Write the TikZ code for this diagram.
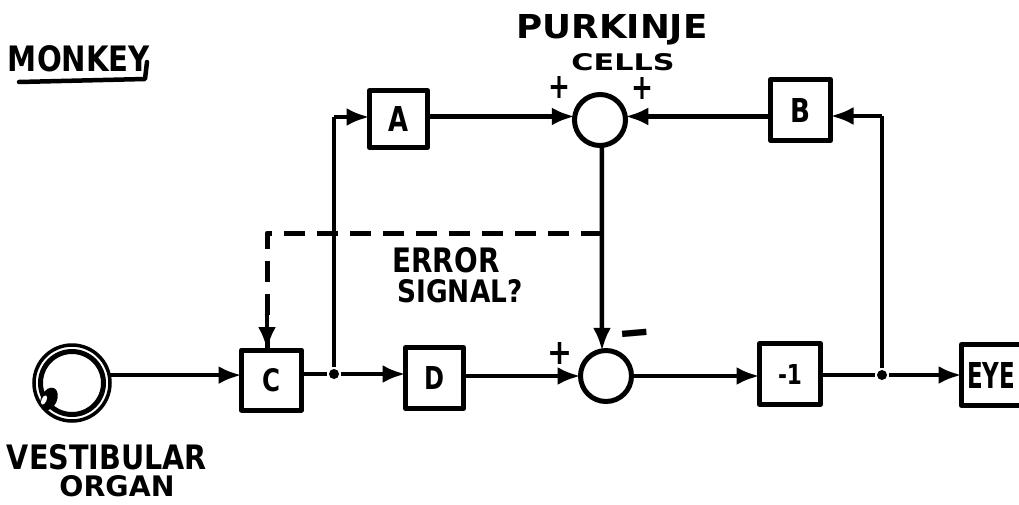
\documentclass[tikz,border=0pt]{standalone}
\usepackage{graphicx}
\usepackage{fontspec}
\setmainfont{DejaVu Sans}
\usetikzlibrary{arrows.meta,shapes.geometric}
\newcommand{\fitbox}[3]{\resizebox{#1pt}{#2pt}{\bfseries #3}}
\tikzset{
 blk/.style={draw,line width=5pt,line join=round,inner sep=0pt,outer sep=0pt},
 sumc/.style={draw,circle,line width=5pt,minimum size=51pt,inner sep=0pt,outer sep=0pt},
 lab/.style={align=center,inner sep=0pt},
 arr/.style={-{Latex[length=23pt,width=18pt]}},
 dot/.style={circle,fill=black,inner sep=0pt,minimum size=10pt},
 dsh/.style={dash pattern=on 21pt off 12pt,line width=5pt,line join=round}
}
\begin{document}
\begin{tikzpicture}[x=1pt,y=-1pt,line width=4.5pt]
\useasboundingbox (0,0) rectangle (1019,504);
\node[blk,minimum width=58pt,minimum height=57pt] (A) at (398.5,119) {\fitbox{20}{25}{A}};
\node[blk,minimum width=60pt,minimum height=61pt] (B) at (800.5,110) {\fitbox{20}{24}{B}};
\node[blk,minimum width=60pt,minimum height=60pt] (C) at (271.5,380) {\fitbox{18}{23}{C}};
\node[blk,minimum width=58pt,minimum height=61pt] (D) at (434.5,378) {\fitbox{20}{23}{D}};
\node[blk,minimum width=61pt,minimum height=61pt] (M) at (790,374) {\fitbox{24}{20}{-1}\hspace{18pt}};
\node[blk,minimum width=66pt,minimum height=61pt] (E) at (994.5,375) {\hspace{-7pt}\raisebox{-5pt}{\fitbox{48}{26}{EYE}}};
\node[sumc] (P) at (600,120) {};
\node[sumc] (S) at (606,376) {};
\node[circle,draw,line width=3.5pt,minimum size=76pt,inner sep=0pt,outer sep=0pt] (V) at (72,383) {};
\node[circle,draw,line width=5pt,minimum size=63pt,inner sep=0pt,outer sep=0pt] (Vi) at (72,383) {};
\node[ellipse,fill=black,minimum width=16pt,minimum height=24pt,inner sep=0pt,rotate=-25] (Vb) at (49,399) {};
\node[ellipse,fill=white,minimum width=5pt,minimum height=10pt,inner sep=0pt,rotate=-25] (Vw) at (44,400) {};
\node[dot] (J1) at (334,374) {};
\node[dot] (J2) at (882,375) {};
\coordinate (T1) at (334,117);
\coordinate (T2) at (882,116);
\coordinate (J3) at (602,233);
\coordinate (DL) at (267,233);
\draw[arr] (V.12) -- (C.west |- V.12);
\draw (C.east |- J1) -- (J1);
\draw[arr] (J1) -- (D.west |- J1);
\draw[arr] (D.east |- S.west) -- (S.west);
\draw[arr] (S.east) -- (M.west |- S.east);
\draw (M.east |- J2) -- (J2);
\draw[arr] (J2) -- (E.west |- J2);
\draw (J1) -- (T1);
\draw[arr] (T1) -- (A.west |- T1);
\draw[arr] (A.east |- P.172) -- (P.172);
\draw (J2) -- (T2);
\draw[arr] (T2) -- (B.east |- T2);
\draw[arr] (B.west |- P.8) -- (P.8);
\draw[arr] (P.274) -- (S.99);
\draw[dsh] (J3) -- (DL) -- (DL |- C.north);
\draw[arr] (DL |- 0,312) -- (DL |- C.north);
\node[lab] (mk) at (79,59) {\fitbox{142}{26}{MONKEY}};
\coordinate (u1) at (19,82); \coordinate (u2) at (145,79); \coordinate (u3) at (147,62);
\draw[line cap=round,line join=round] (u1) -- (u2) -- (u3);
\node[lab] (pk) at (612,30) {\fitbox{191}{24}{PURKINJE}};
\node[lab] (ce) at (623,62) {\fitbox{103}{17}{CELLS}};
\node[lab] (er) at (446,260) {\fitbox{107}{25}{ERROR}};
\node[lab] (si) at (460,291) {\fitbox{125}{23}{SIGNAL?}};
\node[lab] (vo) at (107,457) {\fitbox{200}{25}{VESTIBULAR}};
\node[lab] (og) at (117,486) {\fitbox{115}{21}{ORGAN}};
\node[lab] (p1) at (559,87) {\fitbox{22}{22}{+}};
\node[lab] (p2) at (642,88) {\fitbox{22}{22}{+}};
\node[lab] (p3) at (560,353) {\fitbox{25}{22}{+}};
\node[lab,rotate=5] (m1) at (635,339) {\fitbox{31}{17}{–}};
\end{tikzpicture}
\end{document}
